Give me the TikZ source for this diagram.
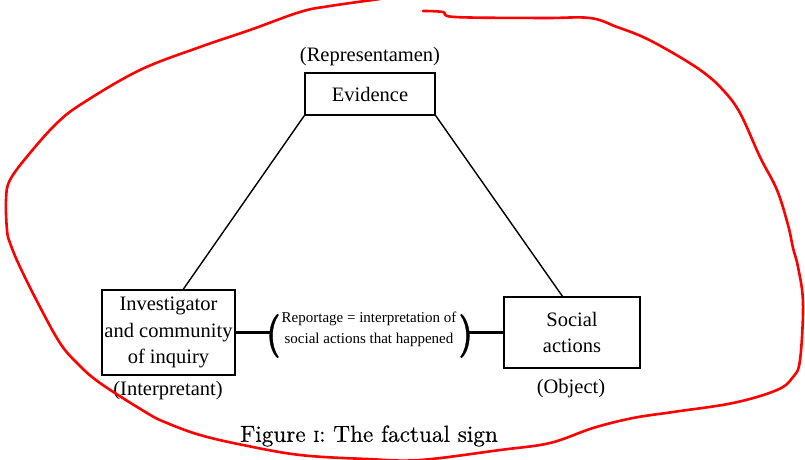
\documentclass[tikz,border=0pt]{standalone}
\usepackage{fontspec}
\newfontfamily\timesfont{Liberation Serif}
\newfontfamily\capfont{lmroman10-regular.otf}[FakeBold=0.4]
\usetikzlibrary{calc}
\tikzset{
  box/.style={draw, line width=1.6pt, align=center, inner sep=0pt,
              font=\timesfont\fontsize{20.5}{26.5}\selectfont},
  tag/.style={inner sep=0pt, font=\timesfont\fontsize{20.5}{24}\selectfont},
  note/.style={inner sep=0pt, align=center, font=\timesfont\fontsize{15}{21}\selectfont},
  parenfill/.style={fill=black, draw=black, line width=0.3pt},
  link/.style={line width=1.4pt},
  bar/.style={line width=2.2pt},
  outline/.style={red, line width=2.6pt, line cap=round, line join=round},
  caption/.style={inner sep=0pt, font=\capfont\fontsize{23.2}{26}\selectfont}
}
\begin{document}
\begin{tikzpicture}[x=1pt,y=-1pt]
\useasboundingbox (0,0) rectangle (805,460);

% the three corners of the sign
\node[box, minimum width=130pt, minimum height=42pt] (ev) at (370,94) {Evidence};
\node[tag] (rep) at (370,57) {(Representamen)};

\node[box, minimum width=133pt, minimum height=85pt] (inv) at (168.5,332.5)
  {Investigator\\and community\\of inquiry};
\node[tag] (interp) at (168,391) {(Interpretant)};

\node[box, minimum width=136pt, minimum height=71pt] (soc) at (572,332.5)
  {Social\\actions};
\node[tag] (obj) at (571,389) {(Object)};

% the bracketed relation between interpretant and object
\node[note] (rel) at (369,329) {Reportage = interpretation of\\social actions that happened};
\coordinate (lpar) at (269.6,332.5);
\coordinate (rpar) at (469.4,332.5);
\fill[parenfill] (277.5,314) .. controls (267,324) and (267,348) .. (277.5,358)
  -- (278.5,357) .. controls (270.5,346) and (270.5,326) .. (278.5,315) -- cycle;
\fill[parenfill] (461.5,314) .. controls (472,324) and (472,348) .. (461.5,358)
  -- (460.5,357) .. controls (468.5,346) and (468.5,326) .. (460.5,315) -- cycle;

% connectors
\draw[link] (ev.south west) -- ($(inv.north west)!0.61!(inv.north east)$);
\draw[link] (ev.south east) -- ($(soc.north west)!0.43!(soc.north east)$);
\draw[bar] (inv.east) -- (lpar);
\draw[bar] (rpar) -- (soc.west);

% caption
\node[caption] (cap) at (369,436) {Figure {\fontsize{16}{16}\selectfont I}: The factual sign};

% hand-drawn loop around the diagram
\draw[outline] plot[smooth, tension=0.6] coordinates {
  (380,-1) (330,6) (300,12) (250,30) (200,47) (140,70) (83,103) (57,123)
  (30,153) (10,180) (6,200) (7,230) (10,243) (20,267) (40,307) (60,343)
  (77,363) (100,383) (147,413) (167,423) (200,435) (243,445) (300,455)
  (367,459) (420,460) (500,450) (550,443) (593,428) (633,418) (673,412)
  (733,403) (777,390) (793,377) (800,360) (803,303) (798,267) (793,248)
  (788,225) (777,190) (760,157) (740,113) (723,90) (703,72) (673,53)
  (643,37) (617,27) (590,18) (543,18) (455,17) (443,12) (423,11)};
\end{tikzpicture}
\end{document}
